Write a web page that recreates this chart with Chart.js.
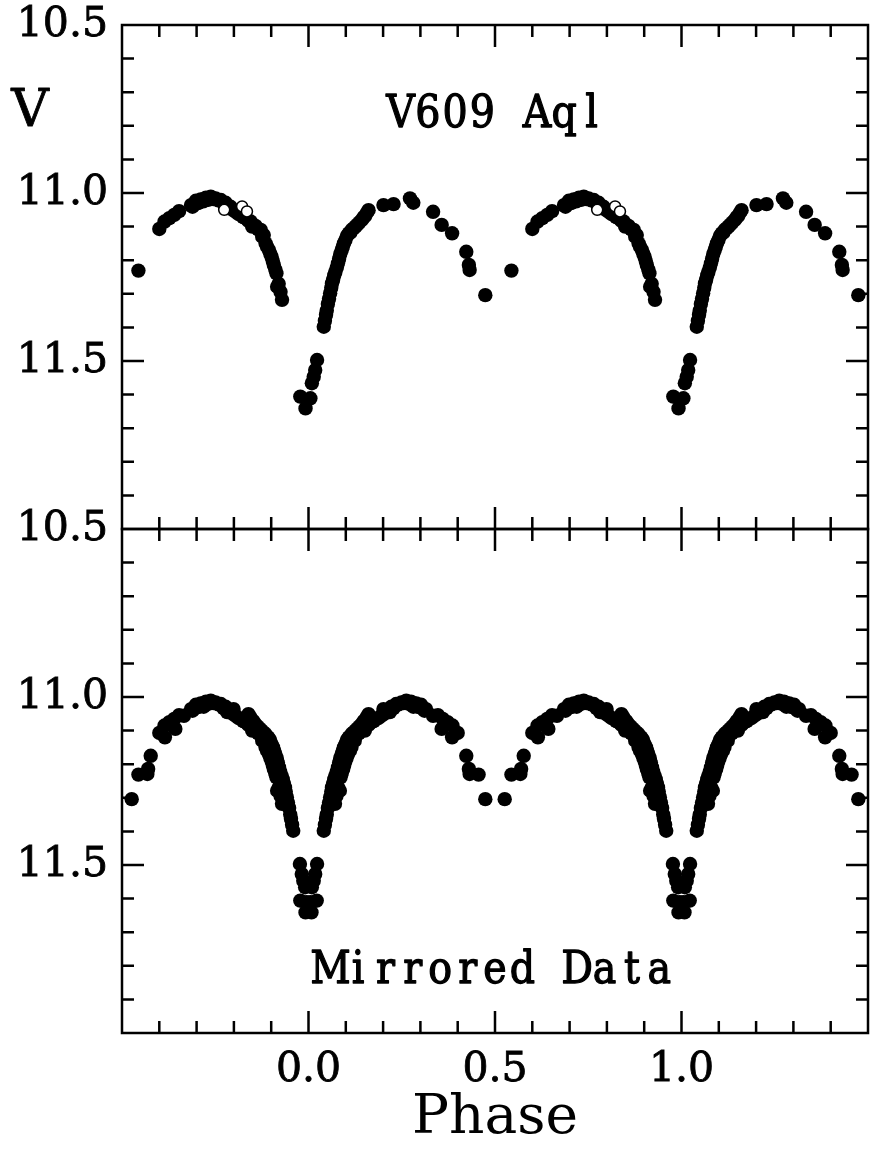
<!DOCTYPE html>
<html>
<head>
<meta charset="utf-8">
<script src="https://cdn.jsdelivr.net/npm/chart.js@4.4.1/dist/chart.umd.min.js"></script>
<style>
html,body{margin:0;padding:0;background:#fff;}
#wrap{position:relative;width:870px;height:1169px;overflow:hidden;}
canvas{position:absolute;left:0;top:0;}
</style>
</head>
<body>
<div id="wrap">
<canvas id="cTop" width="870" height="1169"></canvas>
<canvas id="cBot" width="870" height="1169"></canvas>
</div>
<script>
// ---------- data ----------
// observed phases (one cycle, -0.5..0.5) and V magnitudes, filled circles
const obsPhase = [
 -0.456,-0.400,-0.386,-0.373,-0.360,-0.347,
 -0.315,-0.311,-0.302,-0.296,-0.289,-0.282,-0.275,-0.268,-0.262,-0.255,-0.249,-0.242,-0.235,-0.228,-0.222,-0.218,
 -0.209,-0.203,-0.195,-0.188,-0.182,-0.175,-0.168,-0.161,-0.155,-0.151,-0.142,-0.135,-0.128,-0.124,-0.120,-0.115,
 -0.111,-0.106,-0.102,-0.099,-0.096,-0.093,-0.089,-0.086,-0.084,-0.080,-0.075,-0.071,
 -0.022,-0.008,0.005,0.009,0.014,0.018,0.023,
 0.041,0.044,0.047,0.049,0.052,0.055,0.058,0.061,0.063,0.066,0.069,0.072,0.076,0.079,0.082,0.085,0.089,0.092,
 0.095,0.099,0.103,0.108,0.112,0.116,0.121,0.126,0.130,0.136,0.143,0.148,0.152,0.157,0.161,
 0.201,0.228,0.272,0.281,0.334,0.357,0.385,0.423,0.430,0.432,0.474
];
const obsMag = [
 11.231,11.107,11.085,11.075,11.065,11.054,
 11.036,11.041,11.023,11.030,11.019,11.025,11.014,11.020,11.011,11.018,11.016,11.022,11.021,11.030,11.029,11.045,
 11.041,11.050,11.056,11.062,11.065,11.072,11.075,11.083,11.085,11.100,11.098,11.108,11.110,11.130,11.125,11.150,
 11.160,11.170,11.182,11.190,11.202,11.214,11.228,11.239,11.279,11.270,11.294,11.318,
 11.606,11.641,11.611,11.566,11.547,11.527,11.497,
 11.398,11.380,11.362,11.350,11.330,11.315,11.298,11.282,11.269,11.258,11.245,11.235,11.222,11.209,11.196,11.182,11.170,11.160,
 11.150,11.140,11.128,11.120,11.118,11.110,11.105,11.100,11.095,11.088,11.080,11.072,11.068,11.058,11.051,
 11.036,11.033,11.016,11.029,11.056,11.095,11.120,11.175,11.214,11.229,11.304
];
// a few open-circle observations
const openPhase = [-0.226,-0.178,-0.165];
const openMag   = [11.050,11.040,11.055];

const yTickLabels = [10.5, 11.0, 11.5];
const xTickLabels = [0.0, 0.5, 1.0];
const phaseMin = -0.5, phaseMax = 1.5;
const magMin = 10.5, magMax = 12.0;

// ---------- derived series (phase plotted twice; mirrored = data + reflection) ----------
function twoCycles(ph, mg){
  const out=[];
  ph.forEach((p,i)=>{ out.push({x:p,y:mg[i]}); out.push({x:p+1,y:mg[i]}); });
  return out;
}
const topPts  = twoCycles(obsPhase, obsMag);
const openPts = twoCycles(openPhase, openMag);
const mirPhase = obsPhase.concat(obsPhase.map(p=>-p));
const mirMag   = obsMag.concat(obsMag);
const mirPts  = twoCycles(mirPhase, mirMag);

// ---------- plugins ----------
const framePlugin = {
  id:'frame',
  afterDatasetsDraw(chart){
    const {ctx, chartArea:a} = chart;
    const x = chart.scales.x, y = chart.scales.y;
    ctx.save();
    ctx.strokeStyle='#000'; ctx.lineWidth=2.5; ctx.lineCap='butt';
    ctx.beginPath();
    for(let i=-4;i<=14;i++){
      const px=x.getPixelForValue(i/10); const L=(i%5===0)?22:12;
      ctx.moveTo(px,a.top); ctx.lineTo(px,a.top+L);
      ctx.moveTo(px,a.bottom); ctx.lineTo(px,a.bottom-L);
    }
    for(let j=1;j<=14;j++){
      const py=y.getPixelForValue(magMin+j/10); const L=(j%5===0)?22:12;
      ctx.moveTo(a.left,py); ctx.lineTo(a.left+L,py);
      ctx.moveTo(a.right,py); ctx.lineTo(a.right-L,py);
    }
    ctx.stroke();
    ctx.strokeRect(a.left,a.top,a.right-a.left,a.bottom-a.top);
    ctx.restore();
  }
};
// monospaced-cell text drawn with a serif face
const textPlugin = {
  id:'panelText',
  afterDraw(chart,args,opts){
    const ctx=chart.ctx;
    (opts.items||[]).forEach(t=>{
      ctx.save();
      ctx.fillStyle='#000';
      ctx.strokeStyle='#000';
      ctx.lineWidth=t.stroke||0;
      ctx.lineJoin='round';
      ctx.font=t.font;
      ctx.textAlign='center';
      ctx.textBaseline='alphabetic';
      const draw=(c)=>{ ctx.fillText(c,0,0); if(t.stroke) ctx.strokeText(c,0,0); };
      if(t.cell){
        const chars=[...t.text];
        const x0=t.x - chars.length*t.cell/2;
        chars.forEach((c,i)=>{
          ctx.save();
          ctx.translate(x0+(i+0.5)*t.cell, t.y);
          ctx.scale(t.sx||1,1);
          draw(c);
          ctx.restore();
        });
      } else {
        ctx.translate(t.x,t.y);
        ctx.scale(t.sx||1,1);
        draw(t.text);
      }
      ctx.restore();
    });
  }
};

function yScale(){
  return {
    type:'linear', reverse:true, min:magMin, max:magMax,
    grid:{display:false, drawTicks:false}, border:{display:false},
    afterBuildTicks:s=>{ s.ticks = yTickLabels.map(v=>({value:v})); },
    afterFit:s=>{ s.width=122; s.paddingTop=0; s.paddingBottom=0; },
    ticks:{ color:'#000', padding:14, font:{family:'DejaVu Serif', size:41},
            textStrokeColor:'#000', textStrokeWidth:0.8,
            callback:v=>Number(v).toFixed(1) }
  };
}

const common = {
  responsive:false, animation:false, devicePixelRatio:1,
  events:[],
};

new Chart(document.getElementById('cTop'), {
  type:'scatter',
  data:{ datasets:[
    {data:openPts, pointRadius:5.5, pointBackgroundColor:'#fff', pointBorderColor:'#000', pointBorderWidth:1.5},
    {data:topPts, pointRadius:7.2, pointBackgroundColor:'#000', pointBorderWidth:0}
  ]},
  options:Object.assign({}, common, {
    layout:{autoPadding:false, padding:{top:25, bottom:1169-529, left:0, right:2}},
    plugins:{ legend:{display:false}, tooltip:{enabled:false},
      panelText:{items:[
        {text:'V609 Aql', x:496, y:127, font:'45px "DejaVu Serif"', cell:27.3, sx:0.88, stroke:1.3},
        {text:'V', x:30, y:126, font:'52px "DejaVu Serif"', stroke:0.8}
      ]}
    },
    scales:{
      x:{type:'linear', min:phaseMin, max:phaseMax, display:false},
      y:yScale()
    }
  }),
  plugins:[framePlugin, textPlugin]
});

new Chart(document.getElementById('cBot'), {
  type:'scatter',
  data:{ datasets:[
    {data:mirPts, pointRadius:7.2, pointBackgroundColor:'#000', pointBorderWidth:0}
  ]},
  options:Object.assign({}, common, {
    layout:{autoPadding:false, padding:{top:529, bottom:0, left:0, right:2}},
    plugins:{ legend:{display:false}, tooltip:{enabled:false},
      panelText:{items:[
        {text:'Mirrored Data', x:495, y:983, font:'45px "DejaVu Serif"', cell:27.4, sx:0.88, stroke:1.3}
      ]}
    },
    scales:{
      x:{type:'linear', min:phaseMin, max:phaseMax,
         grid:{display:false, drawTicks:false}, border:{display:false},
         afterBuildTicks:s=>{ s.ticks = xTickLabels.map(v=>({value:v})); },
         afterFit:s=>{ s.height=1169-1033; s.paddingLeft=0; s.paddingRight=0; },
         ticks:{ color:'#000', padding:13, maxRotation:0, font:{family:'DejaVu Serif', size:41},
                 textStrokeColor:'#000', textStrokeWidth:0.8,
                 callback:v=>Number(v).toFixed(1) },
         title:{display:true, text:'Phase', color:'#000', font:{family:'DejaVu Serif', size:55}, padding:{top:0,bottom:17}}
      },
      y:yScale()
    }
  }),
  plugins:[framePlugin, textPlugin]
});
</script>
</body>
</html>
